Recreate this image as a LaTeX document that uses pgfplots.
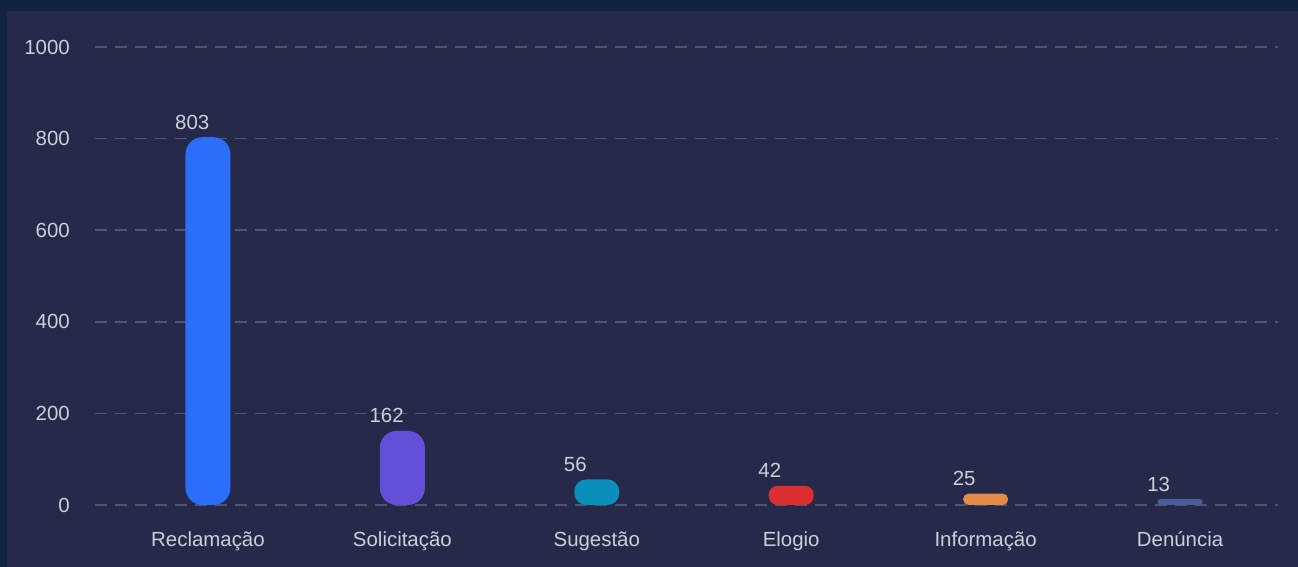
\documentclass[border=0pt]{standalone}
\usepackage{pgfplots}
\pgfplotsset{compat=1.18}
\usepackage{fontspec}
\setmainfont{Liberation Sans}
\definecolor{outerbg}{HTML}{10233F}
\definecolor{panel}{HTML}{252A4A}
\definecolor{gridc}{HTML}{50566F}
\definecolor{txt}{HTML}{CDCFD8}
\definecolor{c1}{HTML}{2B6EF9}
\definecolor{c2}{HTML}{6350D9}
\definecolor{c3}{HTML}{0A8FB8}
\definecolor{c4}{HTML}{D92F2F}
\definecolor{c5}{HTML}{E38B47}
\definecolor{c6}{HTML}{495E97}
\begin{document}
\begin{tikzpicture}[x=1bp,y=1bp]
\fill[outerbg] (0,0) rectangle (1298,567);
\fill[panel] (7,0) rectangle (1298,556);
\begin{axis}[
  at={(95bp,62bp)}, anchor=south west,
  scale only axis, width=1183bp, height=458bp,
  xmin=-0.581, xmax=5.504, ymin=0, ymax=1000,
  xtick={0,...,5},
  xticklabels={Reclamação,Solicitação,Sugestão,Elogio,Informação,Denúncia},
  ytick={0,200,...,1000},
  ymajorgrids,
  grid style={draw=gridc, line width=1.5bp, dash pattern=on 12bp off 8bp},
  axis line style={draw=none}, major tick length=0pt,
  tick label style={font=\fontsize{20.5}{24}\selectfont, text=txt},
  xticklabel style={anchor=base, yshift=-42bp},
  yticklabel style={anchor=east, inner sep=0pt, xshift=-25bp},
  /pgf/number format/assume math mode=true,
  /pgf/number format/1000 sep={},
  scaled y ticks=false,
  clip=false,
  nodes near coords,
  nodes near coords style={font=\fontsize{20.5}{24}\selectfont, text=txt, anchor=west, inner sep=0pt, xshift=-33bp, yshift=15bp},
]
\addplot[ybar, bar width=45bp, bar shift=0pt, fill=c1, draw=none, rounded corners=17bp] coordinates {(0,803)};
\addplot[ybar, bar width=45bp, bar shift=0pt, fill=c2, draw=none, rounded corners=17bp] coordinates {(1,162)};
\addplot[ybar, bar width=45bp, bar shift=0pt, fill=c3, draw=none, rounded corners=12bp] coordinates {(2,56)};
\addplot[ybar, bar width=45bp, bar shift=0pt, fill=c4, draw=none, rounded corners=9bp] coordinates {(3,42)};
\addplot[ybar, bar width=45bp, bar shift=0pt, fill=c5, draw=none, rounded corners=5.5bp] coordinates {(4,25)};
\addplot[ybar, bar width=45bp, bar shift=0pt, fill=c6, draw=none, rounded corners=2.8bp] coordinates {(5,13)};
\end{axis}
\end{tikzpicture}
\end{document}
